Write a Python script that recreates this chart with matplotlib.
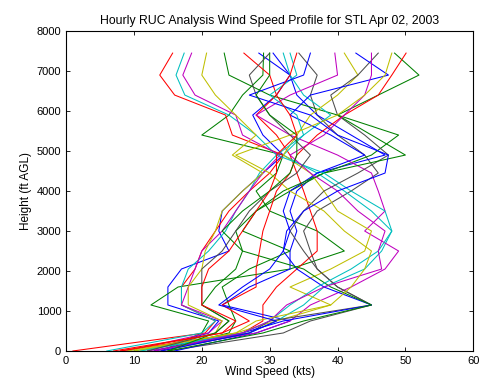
"""Hourly RUC wind speed profiles for STL, Apr 02 2003 (MATLAB-style line plot)."""
import matplotlib
matplotlib.use("Agg")
import matplotlib.pyplot as plt

plt.rcParams["font.family"] = ["Liberation Sans", "DejaVu Sans"]

# analysis levels (ft AGL) shared by every hourly profile
HEIGHTS = [0, 450, 750, 1150, 1600, 2050, 2500, 3000, 3500, 4000,
           4450, 4900, 5400, 5900, 6400, 6900, 7450]

# wind speed (kts) at each level, one list per hour
P00 = [12, 21, 22.5, 15, 15, 17, 24, 22.5, 23, 26, 29, 32, 29, 27.5, 31, 33, 28.4]
P01 = [14, 20, 21, 12.5, 16.5, 33, 41, 37, 30, 28, 31, 32, 20, 24, 26, 29, 29.1]
P02 = [1, 20.5, 22, 17, 17, 19, 20, 22, 24, 27, 30, 32, 24.5, 23.5, 16, 13.8, 15.7]
P03 = [6, 20, 22, 17, 17, 18, 21, 23.5, 25, 27, 28.5, 31, 28, 24, 17.5, 16.2, 17.4]
P04 = [9, 21, 23, 17, 18, 19, 20, 23, 25, 27, 29, 31.5, 26, 25, 19, 17.2, 18.5]
P05 = [11, 22, 23, 18, 18, 20, 20.5, 22, 23, 26, 29, 24.5, 28, 25, 22, 20, 20.7]
P06 = [15, 32, 36, 45, 40, 37, 36, 35, 37, 42, 46, 44, 40, 37, 36, 37, 34.3]
P07 = [16, 28, 33, 23, 27, 33, 33, 34, 33, 34, 37, 47, 42, 37, 34, 33, 30.5]
P08 = [13, 24, 25, 24, 23, 27, 33, 26, 28, 33, 38, 45, 49, 40, 30, 24, 23.3]
P09 = [8, 26, 29, 29, 31, 34, 37, 37, 36, 35, 34, 33, 31, 28, 31, 30, 26.2]
P10 = [10, 27, 31, 35, 38, 44, 46.5, 48, 45, 41, 37, 32, 35, 39, 35, 33, 32.0]
P11 = [12, 28, 33, 36, 42, 47, 49, 44, 47, 46, 45, 40, 33, 28, 33, 40, 39.6]
P12 = [9, 25, 31, 39, 33, 39, 44, 45, 40, 38, 36, 32, 34, 36, 40, 43, 41.0]
P13 = [14, 27, 30, 45, 40, 37, 35, 33, 35, 38, 43, 47.5, 44, 40, 39, 43, 46.0]
P14 = [13, 26, 32, 45, 38, 34, 32, 33, 32, 33, 37, 44, 39, 33, 36, 47.5, 42.7]
P15 = [15, 29, 35, 45, 39, 35, 26, 25, 28, 32, 38, 50, 45, 40, 46, 52, 48.4]
P16 = [7, 23, 27, 23, 28, 28, 28.5, 29, 30, 31, 33, 34, 37, 41, 46, 48, 50.1]
P17 = [11, 26, 30, 33, 37, 42, 46, 48, 47, 42, 38, 31, 35, 34, 30, 34, 33]
P18 = [13, 26, 30, 32.5, 38, 46.5, 46, 47, 43, 40, 36, 33, 38, 41, 44, 45, 45.0]
P19 = [10, 25, 28, 39, 42, 44, 45, 41, 38, 33, 30, 25, 33, 40, 44, 47, 48.0]
P20 = [12, 22, 24, 20, 20, 20, 23, 25, 27, 30, 34, 36, 33, 30, 28, 27, 30]
P21 = [14, 27, 31, 22.5, 26, 30, 32, 32.5, 35, 40, 47, 47.5, 40, 36, 27, 35, 36]
P22 = [15, 22, 24, 20, 22, 25, 26, 23, 26, 30, 33, 34, 34, 30, 28, 30, 30]
P23 = [8, 23, 25, 20, 20, 21, 24, 26, 28, 30, 31, 31, 34, 33, 31, 33, 34]

PROFILES = [P00, P01, P02, P03, P04, P05, P06, P07, P08, P09, P10, P11,
            P12, P13, P14, P15, P16, P17, P18, P19, P20, P21, P22, P23]

# MATLAB default color order
COLORS = [(0, 0, 1), (0, 0.5, 0), (1, 0, 0), (0, 0.75, 0.75),
          (0.75, 0, 0.75), (0.75, 0.75, 0), (0.3, 0.3, 0.3)]


def main() -> None:
    fig = plt.figure(figsize=(4.79, 3.84), dpi=100)
    ax = fig.add_axes([0.138, 0.086, 0.850, 0.833])

    for i, prof in enumerate(PROFILES):
        ax.plot(prof, HEIGHTS, color=COLORS[i % len(COLORS)], lw=0.75)

    ax.set_xlim(0, 60)
    ax.set_ylim(0, 8000)
    ax.set_xticks(range(0, 61, 10))
    ax.set_yticks(range(0, 8001, 1000))
    ax.tick_params(direction="in", top=True, right=True, labelsize=8,
                   length=3, width=0.6)
    for s in ax.spines.values():
        s.set_linewidth(0.8)

    ax.set_title("Hourly RUC Analysis Wind Speed Profile for STL Apr 02, 2003",
                 fontsize=8.8, pad=5)
    ax.set_xlabel("Wind Speed (kts)", fontsize=8.5, labelpad=0)
    ax.set_ylabel("Height (ft AGL)", fontsize=8.5, labelpad=3)

    fig.savefig("out.png", dpi=100)
    plt.close(fig)


if __name__ == "__main__":
    main()
